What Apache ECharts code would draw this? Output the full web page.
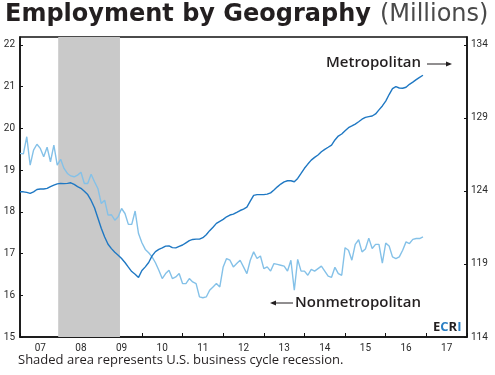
<!DOCTYPE html>
<html>
<head>
<meta charset="utf-8">
<script src="https://cdn.jsdelivr.net/npm/echarts@6/dist/echarts.min.js"></script>
<style>
html,body{margin:0;padding:0;background:#fff;}
#c{width:495px;height:375px;}
</style>
</head>
<body>
<div id="c"></div>
<script>
// ---- data ----
const yearLabels = ['07','08','09','10','11','12','13','14','15','16','17'];
const startYear = 2007;
const recession = [2007.94, 2009.46];
// Metropolitan employment (millions), monthly from Jan 2007 (right axis)
const metro = [
123.94,123.94,123.90,123.83,123.94,124.10,124.13,124.13,124.18,124.30,124.40,124.48,
124.52,124.50,124.52,124.56,124.45,124.30,124.18,123.98,123.75,123.35,122.85,122.15,
121.45,120.85,120.35,120.05,119.80,119.60,119.37,119.10,118.78,118.48,118.30,118.08,
118.55,118.80,119.10,119.55,119.85,120.00,120.10,120.22,120.24,120.12,120.10,120.20,
120.30,120.45,120.60,120.68,120.70,120.70,120.80,121.00,121.28,121.52,121.78,121.92,
122.05,122.23,122.35,122.41,122.53,122.66,122.76,122.89,123.30,123.70,123.75,123.75,
123.75,123.78,123.87,124.06,124.28,124.47,124.62,124.70,124.70,124.63,124.86,125.20,
125.55,125.84,126.11,126.30,126.46,126.68,126.85,126.99,127.14,127.49,127.76,127.90,
128.12,128.33,128.45,128.58,128.74,128.91,129.04,129.09,129.13,129.27,129.55,129.82,
130.15,130.60,131.00,131.14,131.05,131.03,131.10,131.30,131.45,131.62,131.78,131.92
];
// Nonmetropolitan employment (millions), monthly from Jan 2007 (left axis)
const nonmetro = [
19.40,19.39,19.80,19.12,19.48,19.62,19.52,19.32,19.55,19.20,19.60,19.12,
19.26,19.04,18.92,18.86,18.84,18.88,18.95,18.68,18.68,18.90,18.72,18.56,
18.20,18.28,17.92,17.93,17.80,17.88,18.08,17.96,17.70,17.70,18.02,17.48,
17.26,17.10,17.02,16.92,16.78,16.60,16.40,16.52,16.60,16.40,16.44,16.52,
16.28,16.28,16.40,16.32,16.28,15.96,15.94,15.96,16.12,16.20,16.28,16.20,
16.68,16.88,16.84,16.68,16.76,16.84,16.68,16.52,16.84,17.04,16.88,16.94,
16.64,16.68,16.58,16.76,16.74,16.72,16.70,16.58,16.84,16.12,16.86,16.58,
16.58,16.48,16.62,16.58,16.64,16.70,16.58,16.46,16.43,16.67,16.52,16.48,
17.14,17.08,16.84,17.22,17.33,17.04,17.11,17.37,17.12,17.22,17.22,16.77,
17.25,17.18,16.92,16.88,16.92,17.08,17.28,17.24,17.34,17.36,17.36,17.40
];

const toPairs = arr => arr.map((v, i) => [startYear + i / 12, v]);

const axisFont = {fontFamily: 'Roboto', fontSize: 10, color: '#2a2a2a'};
const chart = echarts.init(document.getElementById('c'), null, {renderer: 'canvas'});
chart.setOption({
  animation: false,
  backgroundColor: '#fff',
  grid: {left: 20, right: 28, top: 37, bottom: 38, show: true, borderColor: '#111', borderWidth: 1.5, backgroundColor: 'transparent'},
  xAxis: [
    {
      type: 'category', data: yearLabels, boundaryGap: true, position: 'bottom',
      axisLine: {show: true, lineStyle: {color: '#111', width: 1.5}},
      axisTick: {show: true, inside: true, length: 4, lineStyle: {color: '#111'}},
      axisLabel: Object.assign({margin: 6}, axisFont),
      splitLine: {show: false}
    },
    {
      type: 'value', min: startYear, max: startYear + 11, show: false, splitLine: {show: false}
    }
  ],
  yAxis: [
    {
      type: 'value', position: 'left', min: 15, max: 22.19, interval: 1,
      axisLine: {show: true, lineStyle: {color: '#111', width: 1.5}},
      axisTick: {show: true, inside: true, length: 3, lineStyle: {color: '#111'}},
      axisLabel: Object.assign({margin: 5, showMaxLabel: false}, axisFont),
      splitLine: {show: false}
    },
    {
      type: 'value', position: 'right', min: 114, max: 134.54, interval: 5,
      axisLine: {show: true, lineStyle: {color: '#111', width: 1.5}},
      axisTick: {show: true, inside: true, length: 3, lineStyle: {color: '#111'}},
      axisLabel: Object.assign({margin: 4, showMaxLabel: false}, axisFont),
      splitLine: {show: false}
    }
  ],
  series: [
    {
      name: 'recession', type: 'line', xAxisIndex: 1, yAxisIndex: 0, data: [], z: 1,
      markArea: {silent: true, itemStyle: {color: '#c9c9c9', opacity: 1},
        data: [[{xAxis: recession[0]}, {xAxis: recession[1]}]]}
    },
    {
      name: 'Nonmetropolitan', type: 'line', xAxisIndex: 1, yAxisIndex: 0, z: 3,
      data: toPairs(nonmetro), showSymbol: false,
      lineStyle: {color: '#84c1e8', width: 1.4}
    },
    {
      name: 'Metropolitan', type: 'line', xAxisIndex: 1, yAxisIndex: 1, z: 4,
      data: toPairs(metro), showSymbol: false,
      lineStyle: {color: '#1f78c3', width: 1.4}
    }
  ],
  graphic: [
    {type: 'text', left: 5, top: 3, style: {
      text: '{b|Employment by Geography}{s| }{l|(Millions)}',
      rich: {
        b: {fontFamily: 'DejaVu Sans', fontWeight: 'bold', fontSize: 24, fill: '#231f20'},
        s: {fontFamily: 'DejaVu Sans', fontSize: 24, width: 9},
        l: {fontFamily: 'DejaVu Sans', fontWeight: 'normal', fontSize: 24, fill: '#4a4a4a'}
      }}},
    {type: 'text', left: 18, top: 354, style: {
      text: 'Shaded area represents U.S. business cycle recession.',
      fontFamily: 'Open Sans', fontSize: 13, fill: '#231f20'}},
    {type: 'text', x: 326, y: 63, style: {
      text: 'Metropolitan', fontFamily: 'Open Sans', fontWeight: 600, fontSize: 15, fill: '#231f20', verticalAlign: 'middle'}},
    {type: 'line', shape: {x1: 427, y1: 64, x2: 450, y2: 64}, style: {stroke: '#231f20', lineWidth: 1}},
    {type: 'polygon', shape: {points: [[452, 64], [446, 61.5], [446, 66.5]]}, style: {fill: '#231f20'}},
    {type: 'text', x: 295, y: 303, style: {
      text: 'Nonmetropolitan', fontFamily: 'Open Sans', fontWeight: 600, fontSize: 15, fill: '#231f20', verticalAlign: 'middle'}},
    {type: 'line', shape: {x1: 272, y1: 303, x2: 293, y2: 303}, style: {stroke: '#231f20', lineWidth: 1}},
    {type: 'polygon', shape: {points: [[270, 303], [276, 300.5], [276, 305.5]]}, style: {fill: '#231f20'}},
    {type: 'text', x: 433, y: 327, style: {
      text: '{d|E}{c|C}{d|R}{c|I}', verticalAlign: 'middle',
      rich: {
        d: {fontFamily: 'Open Sans', fontWeight: 'bold', fontSize: 13, fill: '#231f20'},
        c: {fontFamily: 'Open Sans', fontWeight: 'bold', fontSize: 13, fill: '#2a7fc4'}
      }}}
  ]
});
</script>
</body>
</html>
